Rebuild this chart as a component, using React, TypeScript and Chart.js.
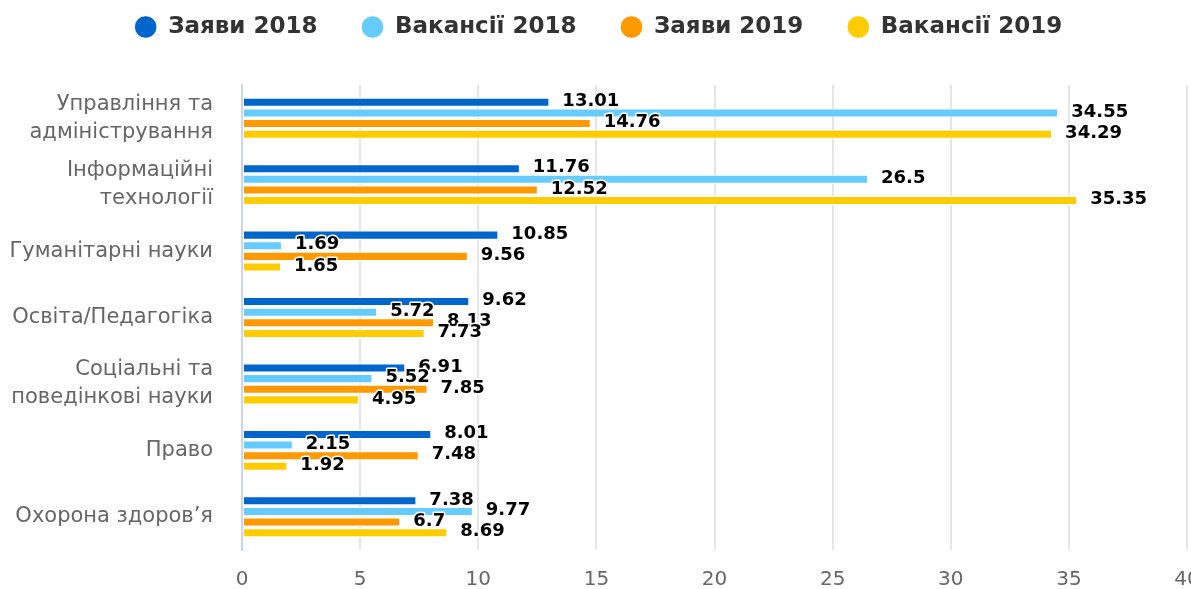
import React, { useEffect, useRef } from "react";
import { Chart, registerables } from "chart.js";

Chart.register(...registerables);

const categories: (string | string[])[] = [
  ["Управління та", "адміністрування"],
  ["Інформаційні", "технології"],
  "Гуманітарні науки",
  "Освіта/Педагогіка",
  ["Соціальні та", "поведінкові науки"],
  "Право",
  "Охорона здоров’я",
];

const seriesNames = ["Заяви 2018", "Вакансії 2018", "Заяви 2019", "Вакансії 2019"];
const seriesColors = ["#0066cc", "#66ccff", "#ff9900", "#ffcc00"];

const applications2018 = [13.01, 11.76, 10.85, 9.62, 6.91, 8.01, 7.38];
const vacancies2018 = [34.55, 26.5, 1.69, 5.72, 5.52, 2.15, 9.77];
const applications2019 = [14.76, 12.52, 9.56, 8.13, 7.85, 7.48, 6.7];
const vacancies2019 = [34.29, 35.35, 1.65, 7.73, 4.95, 1.92, 8.69];

const xTicks = [0, 5, 10, 15, 20, 25, 30, 35, 40];

const FONT = "'DejaVu Sans', Verdana, sans-serif";

const dataLabelPlugin = {
  id: "dataLabels",
  afterDatasetsDraw(chart: any) {
    const ctx = chart.ctx;
    ctx.save();
    ctx.font = `bold 18px ${FONT}`;
    ctx.textAlign = "left";
    ctx.textBaseline = "middle";
    ctx.lineJoin = "round";
    chart.data.datasets.forEach((ds: any, di: number) => {
      const meta = chart.getDatasetMeta(di);
      meta.data.forEach((el: any, i: number) => {
        const txt = String(ds.data[i]);
        const x = el.x + 13;
        const y = el.y - 1;
        ctx.strokeStyle = "#ffffff";
        ctx.lineWidth = 3;
        ctx.strokeText(txt, x, y);
        ctx.fillStyle = "#000000";
        ctx.fillText(txt, x, y);
      });
    });
    ctx.restore();
  },
};

const LEGEND_PAD = 44;

const legendPlugin = {
  id: "legendPos",
  beforeInit(chart: any) {
    const legend = chart.legend;
    if (legend) {
      const orig = legend.fit;
      legend.fit = function () {
        orig.call(this);
        this.height = 85;
      };
    }
  },
  afterLayout(chart: any) {
    const legend = chart.legend;
    if (legend) {
      const shift = 27 - LEGEND_PAD - 11.5;
      legend.top = shift;
      legend.bottom = 85 + shift;
    }
  },
};

export default function App() {
  const ref = useRef<HTMLCanvasElement | null>(null);
  useEffect(() => {
    if (!ref.current) return;
    const datasets = [applications2018, vacancies2018, applications2019, vacancies2019].map(
      (d, i) => ({
        label: seriesNames[i],
        data: d,
        backgroundColor: seriesColors[i],
        borderColor: "#ffffff",
        borderWidth: 1,
        borderSkipped: false,
        categoryPercentage: 0.64,
        barPercentage: 0.85,
        pointStyle: "circle",
      })
    );
    const chart = new Chart(ref.current, {
      type: "bar",
      data: { labels: categories, datasets },
      options: {
        indexAxis: "y",
        animation: false,
        responsive: false,
        maintainAspectRatio: false,
        layout: { padding: { left: 0, right: 4, top: 0, bottom: 0 } },
        plugins: {
          tooltip: { enabled: false },
          legend: {
            display: true,
            position: "top",
            labels: {
              usePointStyle: true,
              boxWidth: 22,
              boxHeight: 16,
              padding: LEGEND_PAD,
              color: "#333333",
              font: { family: FONT, size: 23, weight: "bold" },
            },
          },
        },
        scales: {
          x: {
            type: "linear",
            min: 0,
            max: 40,
            afterBuildTicks(scale: any) {
              scale.ticks = xTicks.map((v) => ({ value: v }));
            },
            afterFit(scale: any) {
              scale.height = 39;
              scale.paddingLeft = 0;
              scale.paddingRight = 0;
            },
            grid: { color: "#e6e6e6", lineWidth: 2, drawTicks: false },
            border: { display: false },
            ticks: {
              color: "#666666",
              padding: 18,
              font: { family: FONT, size: 20 },
            },
          },
          y: {
            type: "category",
            afterFit(scale: any) {
              scale.width = 232;
              scale.paddingTop = 0;
              scale.paddingBottom = 0;
            },
            grid: { display: false, drawTicks: false },
            border: { display: true, color: "#ccd6eb", width: 2 },
            ticks: {
              color: "#666666",
              padding: 29,
              autoSkip: false,
              font: { family: FONT, size: 21, lineHeight: 1.33 },
            },
          },
        },
      },
      plugins: [dataLabelPlugin, legendPlugin],
    } as any);
    return () => chart.destroy();
  }, []);
  return (
    <div
      style={{
        position: "absolute",
        left: 10,
        top: 0,
        width: 1181,
        height: 589,
        overflow: "hidden",
      }}
    >
      <canvas ref={ref} width={1181} height={589} style={{ width: 1181, height: 589, display: "block" }} />
    </div>
  );
}
